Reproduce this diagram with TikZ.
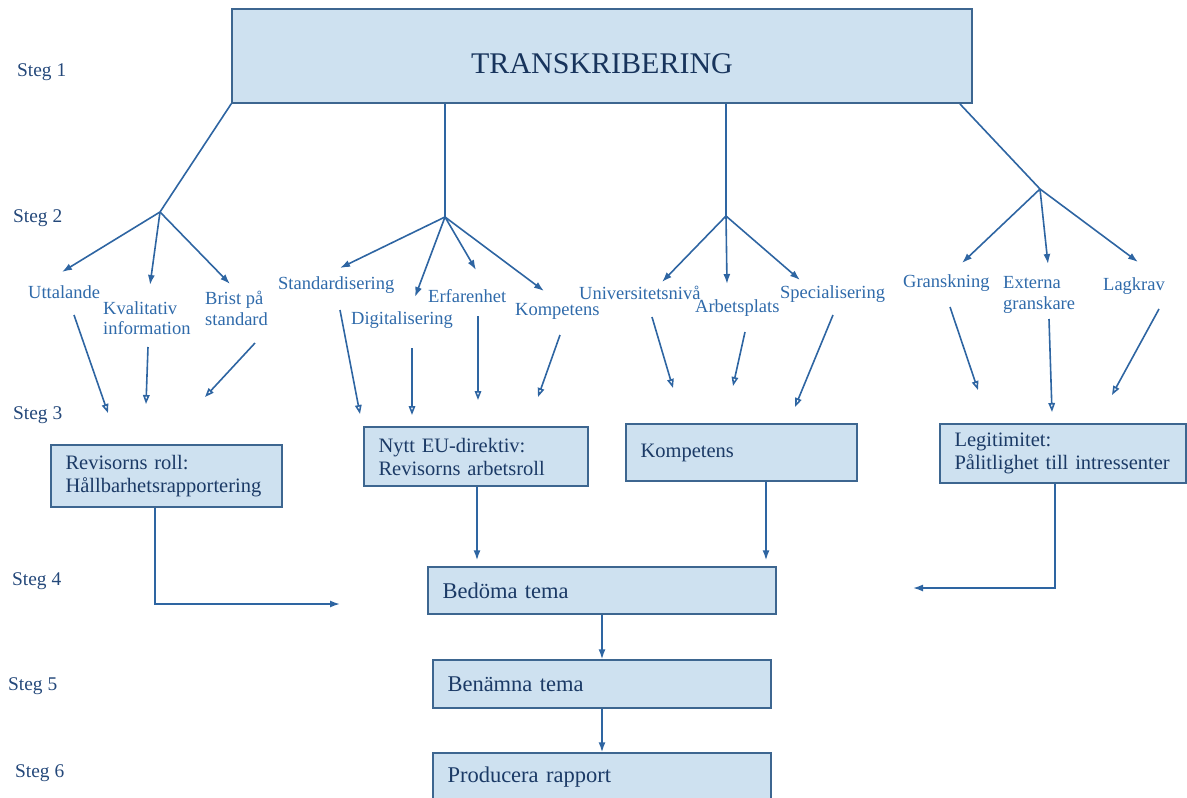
\documentclass[tikz,border=0pt]{standalone}
\usepackage{fontspec}
\setmainfont{Liberation Serif}
\usetikzlibrary{arrows.meta}
\definecolor{stegblue}{HTML}{24487A}
\definecolor{lblblue}{HTML}{2F6AAA}
\definecolor{boxtext}{HTML}{1B3A66}
\definecolor{boxfill}{HTML}{CEE1F0}
\definecolor{boxline}{HTML}{3D6690}
\definecolor{linkblue}{HTML}{2E65A2}
\begin{document}
\begin{tikzpicture}[x=1pt,y=-1pt,
    steg/.style={text=stegblue, font=\fontsize{19.4}{22}\selectfont, anchor=west, inner sep=0pt},
    lbl/.style={text=lblblue, font=\fontsize{18.5}{20.5}\selectfont, anchor=west, align=left, inner sep=0pt},
    box/.style={draw=boxline, fill=boxfill, line width=1.4pt, text=boxtext, font=\fontsize{20.5}{23}\selectfont, align=left, inner xsep=14.5pt, inner ysep=0pt},
    bigbox/.style={box, font=\fontsize{22.5}{25}\selectfont},
    fork/.style={draw=linkblue, line width=1.6pt},
    tip/.style={fork, -{Latex[length=10pt,width=7pt]}},
    hollow/.style={fork, -{Triangle[open,length=9pt,width=6.5pt]}}]
  \useasboundingbox (0,0) rectangle (1187,798);

  % steps
  \node[steg] (s1) at (17,72) {Steg 1};
  \node[steg] (s2) at (13,218) {Steg 2};
  \node[steg] (s3) at (13,415) {Steg 3};
  \node[steg] (s4) at (12,581) {Steg 4};
  \node[steg] (s5) at (8,686) {Steg 5};
  \node[steg] (s6) at (15,773) {Steg 6};

  % boxes
  \node[box, align=center, text=boxtext!90!black, font=\fontsize{30}{32}\selectfont,
    minimum width=740pt, minimum height=94pt, text height=34pt, text depth=0pt] (trans) at (602,56) {TRANSKRIBERING};
  \node[box, minimum width=231pt, minimum height=62pt, text width=202pt] (roll) at (166.5,476)
    {Revisorns roll:\\Hållbarhetsrapportering};
  \node[box, minimum width=224pt, minimum height=59pt, text width=195pt] (eu) at (476,456.5)
    {Nytt EU-direktiv:\\Revisorns arbetsroll};
  \node[box, minimum width=231pt, minimum height=57pt, text width=202pt] (komp3) at (741.5,452.5)
    {Kompetens};
  \node[box, minimum width=246pt, minimum height=59pt, text width=217pt] (legit) at (1063,453.5)
    {Legitimitet:\\Pålitlighet till intressenter};
  \node[bigbox, minimum width=348pt, minimum height=47pt, text width=319pt] (bed) at (602,590.5)
    {Bedöma tema};
  \node[bigbox, minimum width=338pt, minimum height=48pt, text width=309pt] (ben) at (602,684)
    {Benämna tema};
  \node[bigbox, minimum width=338pt, minimum height=48pt, text width=309pt] (prod) at (602,777)
    {Producera rapport};

  % steg 2 labels
  \node[lbl] (utt) at (28,292) {Uttalande};
  \node[lbl] (kval) at (103,318) {Kvalitativ\\information};
  \node[lbl] (brist) at (205,308.5) {Brist på\\standard};
  \node[lbl] (stand) at (278,285) {Standardisering};
  \node[lbl] (dig) at (351,320) {Digitalisering};
  \node[lbl] (erf) at (428,296) {Erfarenhet};
  \node[lbl] (komp) at (515,311) {Kompetens};
  \node[lbl] (univ) at (579,293) {Universitetsnivå};
  \node[lbl] (arb) at (695,308) {Arbetsplats};
  \node[lbl] (spec) at (780,294) {Specialisering};
  \node[lbl] (grans) at (903,283) {Granskning};
  \node[lbl] (ext) at (1003,295) {Externa\\granskare};
  \node[lbl] (lag) at (1103,286) {Lagkrav};

  % junctions and free ends
  \coordinate (j1) at (160,212);
  \coordinate (j2) at (445,217);
  \coordinate (j3) at (726,216);
  \coordinate (j4) at (1040,189);
  \coordinate (j4top) at (960,104);
  \coordinate (uttA) at (62,272);
  \coordinate (kvalA) at (150,285);
  \coordinate (bristA) at (230,284);
  \coordinate (standA) at (340,268);
  \coordinate (digA) at (415,297);
  \coordinate (erfA) at (476,270);
  \coordinate (kompA) at (544,291);
  \coordinate (univA) at (662,282);
  \coordinate (arbA) at (727,284);
  \coordinate (specA) at (800,280);
  \coordinate (gransA) at (962,263);
  \coordinate (extA) at (1048,264);
  \coordinate (lagA) at (1138,262);

  \coordinate (utt1) at (74,315);    \coordinate (utt2) at (108,413);
  \coordinate (kval1) at (148,347);  \coordinate (kval2) at (146,404);
  \coordinate (brist1) at (255,343); \coordinate (brist2) at (205,397);
  \coordinate (stand1) at (340,310); \coordinate (stand2) at (360,414);
  \coordinate (dig1) at (412,348);   \coordinate (dig2) at (412,415);
  \coordinate (erf1) at (478,316);   \coordinate (erf2) at (478,400);
  \coordinate (komp1) at (560,335);  \coordinate (komp2) at (538,397);
  \coordinate (univ1) at (652,317);  \coordinate (univ2) at (673,388);
  \coordinate (arb1) at (745,332);   \coordinate (arb2) at (733,386);
  \coordinate (spec1) at (833,315);  \coordinate (spec2) at (795,407);
  \coordinate (grans1) at (950,307); \coordinate (grans2) at (978,390);
  \coordinate (ext1) at (1049,319);  \coordinate (ext2) at (1052,412);
  \coordinate (lag1) at (1159,309);  \coordinate (lag2) at (1112,395);

  \coordinate (rollbend) at (155,604);
  \coordinate (rollA) at (340,604);
  \coordinate (legbend) at (1055,588);
  \coordinate (legA) at (913,588);
  \coordinate (eudown) at (477,0);
  \coordinate (kompdown) at (766,0);

  % steg 1 -> steg 2
  \draw[fork] (trans.south west) to (j1);
  \draw[fork] (trans.south -| j2) to (j2);
  \draw[fork] (trans.south -| j3) to (j3);
  \draw[fork] (j4top) to (j4);
  \begin{scope}[tip]
    \draw (j1) to (uttA);
    \draw (j1) to (kvalA);
    \draw (j1) to (bristA);
    \draw (j2) to (standA);
    \draw (j2) to (digA);
    \draw (j2) to (erfA);
    \draw (j2) to (kompA);
    \draw (j3) to (univA);
    \draw (j3) to (arbA);
    \draw (j3) to (specA);
    \draw (j4) to (gransA);
    \draw (j4) to (extA);
    \draw (j4) to (lagA);
  \end{scope}

  % steg 2 -> steg 3
  \begin{scope}[hollow]
    \draw (utt1) to (utt2);
    \draw (kval1) to (kval2);
    \draw (brist1) to (brist2);
    \draw (stand1) to (stand2);
    \draw (dig1) to (dig2);
    \draw (erf1) to (erf2);
    \draw (komp1) to (komp2);
    \draw (univ1) to (univ2);
    \draw (arb1) to (arb2);
    \draw (spec1) to (spec2);
    \draw (grans1) to (grans2);
    \draw (ext1) to (ext2);
    \draw (lag1) to (lag2);
  \end{scope}

  % steg 3 -> steg 6
  \begin{scope}[tip]
    \draw (roll.south -| rollbend) -- (rollbend) -- (rollA);
    \draw[shorten >=6pt] (eu.south -| eudown) -- (bed.north -| eudown);
    \draw[shorten >=6pt] (komp3.south -| kompdown) -- (bed.north -| kompdown);
    \draw (legit.south -| legbend) -- (legbend) -- (legA);
    \draw (bed.south) -- (ben.north);
    \draw (ben.south) -- (prod.north);
  \end{scope}
\end{tikzpicture}
\end{document}
